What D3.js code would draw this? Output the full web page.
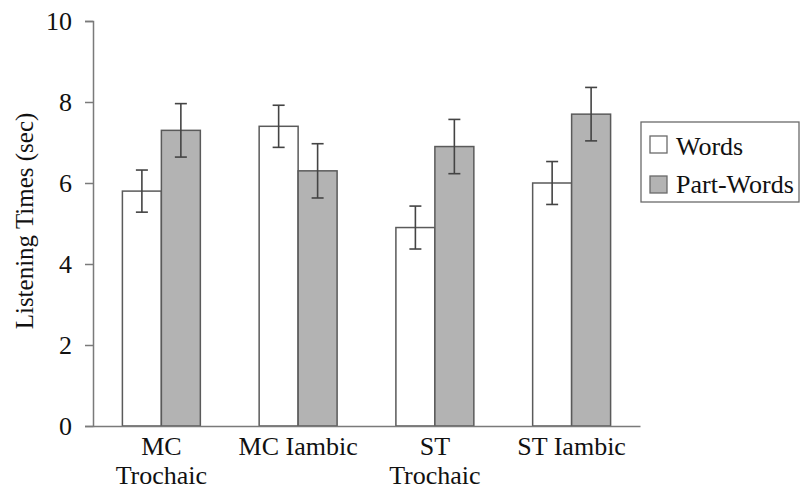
<!DOCTYPE html>
<html>
<head>
<meta charset="utf-8">
<script src="https://d3js.org/d3.v7.min.js"></script>
<style>
  body { margin: 0; background: #fff; }
  text { font-family: "Liberation Serif", "Times New Roman", serif; fill: #111; }
</style>
</head>
<body>
<div id="chart"></div>
<script>
// data
const conditions = ["MC Trochaic", "MC Iambic", "ST Trochaic", "ST Iambic"];
const conditionLines = [["MC", "Trochaic"], ["MC Iambic"], ["ST", "Trochaic"], ["ST Iambic"]];
const seriesNames = ["Words", "Part-Words"];
const wordsMean = [5.8, 7.4, 4.9, 6.0];
const wordsErr = [0.52, 0.52, 0.53, 0.53];
const partWordsMean = [7.3, 6.3, 6.9, 7.7];
const partWordsErr = [0.66, 0.67, 0.67, 0.66];
const yTicks = [0, 2, 4, 6, 8, 10];

const fills = ["#ffffff", "#b3b3b3"];
const serif = "'Liberation Serif', 'Times New Roman', serif";

function main() {
  const W = 800, H = 490;
  const margin = {top: 21, right: 160, bottom: 64, left: 93};
  const width = W - margin.left - margin.right;
  const height = H - margin.top - margin.bottom;

  const svg = d3.select("#chart").append("svg")
      .attr("width", W)
      .attr("height", H);
  const g = svg.append("g")
      .attr("transform", `translate(${margin.left}, ${margin.top})`);

  const rows = conditions.map((c, i) => ({
    cond: c,
    vals: [
      {s: 0, mean: wordsMean[i], err: wordsErr[i]},
      {s: 1, mean: partWordsMean[i], err: partWordsErr[i]}
    ]
  }));

  const x = d3.scaleBand()
      .domain(conditions)
      .range([0, width])
      .paddingInner(0.43)
      .paddingOuter(0.215);
  const xs = d3.scaleBand()
      .domain([0, 1])
      .range([0, x.bandwidth()]);
  const y = d3.scaleLinear()
      .domain([0, 10])
      .range([height, 0]);

  // bars
  const grp = g.selectAll(".grp")
    .data(rows)
    .join("g")
      .attr("transform", d => `translate(${x(d.cond)},0)`);

  grp.selectAll("rect")
    .data(d => d.vals)
    .join("rect")
      .attr("x", d => xs(d.s))
      .attr("y", d => y(d.mean))
      .attr("width", xs.bandwidth())
      .attr("height", d => y(0) - y(d.mean))
      .attr("fill", d => fills[d.s])
      .attr("stroke", "#5a5a5a")
      .attr("stroke-width", 1.5);

  // error bars
  const eb = grp.selectAll(".eb")
    .data(d => d.vals)
    .join("g")
      .attr("stroke", "#444")
      .attr("stroke-width", 1.6);
  const cx = d => xs(d.s) + xs.bandwidth() / 2;
  eb.append("line")
      .attr("x1", cx).attr("x2", cx)
      .attr("y1", d => y(d.mean + d.err))
      .attr("y2", d => y(d.mean - d.err));
  eb.append("line")
      .attr("x1", d => cx(d) - 6).attr("x2", d => cx(d) + 6)
      .attr("y1", d => y(d.mean + d.err)).attr("y2", d => y(d.mean + d.err));
  eb.append("line")
      .attr("x1", d => cx(d) - 6).attr("x2", d => cx(d) + 6)
      .attr("y1", d => y(d.mean - d.err)).attr("y2", d => y(d.mean - d.err));

  // y axis
  const ya = g.append("g")
      .call(d3.axisLeft(y).tickValues(yTicks).tickSize(8).tickPadding(13).tickFormat(d3.format("d")));
  ya.select(".domain").attr("stroke", "#7a7a7a").attr("stroke-width", 1.5);
  ya.selectAll(".tick line").attr("stroke", "#7a7a7a").attr("stroke-width", 1.5);
  ya.selectAll(".tick text")
      .style("font-family", serif)
      .style("font-size", "26px")
      .attr("fill", "#111");

  // x axis
  const xa = g.append("g")
      .attr("transform", `translate(0, ${height})`)
      .call(d3.axisBottom(x).tickSize(0).tickFormat(""));
  xa.select(".domain").attr("stroke", "#7a7a7a").attr("stroke-width", 1.5);
  xa.selectAll(".tick").each(function(d, i) {
    const t = d3.select(this).append("text")
        .attr("text-anchor", "middle")
        .attr("fill", "#111")
        .style("font-family", serif)
        .style("font-size", "26px");
    conditionLines[i].forEach((ln, k) => {
      t.append("tspan").attr("x", 0).attr("y", 29 + k * 29).text(ln);
    });
  });

  // y title
  g.append("text")
      .attr("transform", `translate(${-60}, ${200}) rotate(-90)`)
      .attr("text-anchor", "middle")
      .style("font-family", serif)
      .style("font-size", "25px")
      .text("Listening Times (sec)");

  // legend
  const lg = svg.append("g").attr("transform", "translate(641, 122)");
  lg.append("rect")
      .attr("width", 158).attr("height", 80)
      .attr("fill", "#fff")
      .attr("stroke", "#6a6a6a")
      .attr("stroke-width", 1.3);
  seriesNames.forEach((s, i) => {
    lg.append("rect")
        .attr("x", 9).attr("y", 14 + i * 40)
        .attr("width", 17).attr("height", 17)
        .attr("fill", fills[i])
        .attr("stroke", "#6a6a6a")
        .attr("stroke-width", 1.3);
    lg.append("text")
        .attr("x", 35).attr("y", 33 + i * 38)
        .style("font-family", serif)
        .style("font-size", "26px")
        .text(s);
  });
}

main();
</script>
</body>
</html>
